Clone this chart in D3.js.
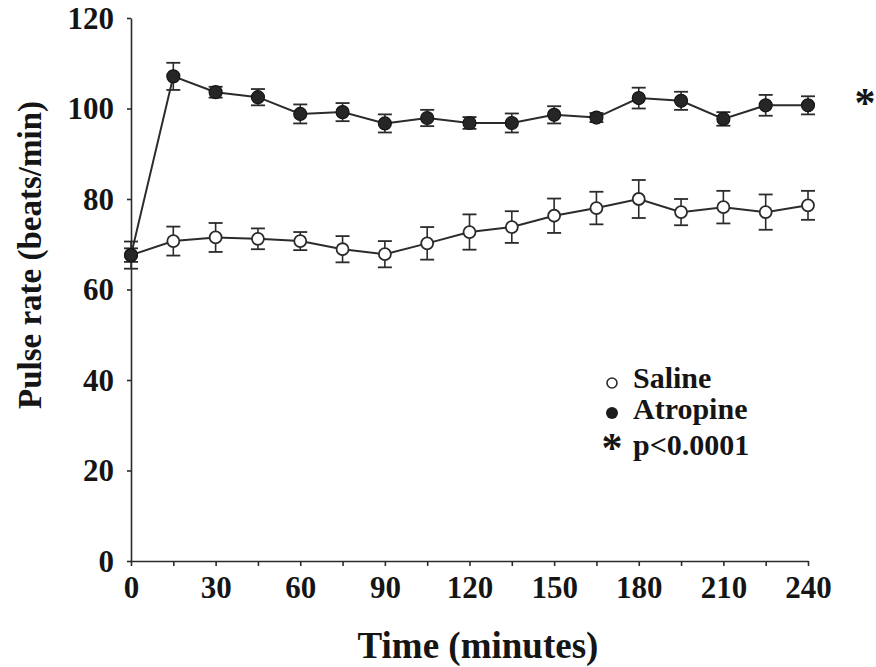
<!DOCTYPE html>
<html>
<head>
<meta charset="utf-8">
<script src="https://cdn.jsdelivr.net/npm/d3@7"></script>
<style>
  html, body { margin: 0; padding: 0; background: #fff; }
  svg { display: block; }
</style>
</head>
<body>
<svg id="chart" width="876" height="667"></svg>
<script>
// ---- data ----
const times = [0, 15, 30, 45, 60, 75, 90, 105, 120, 135, 150, 165, 180, 195, 210, 225, 240];
const salineValues = [67.6, 70.7, 71.5, 71.2, 70.7, 68.9, 67.8, 70.2, 72.7, 73.8, 76.3, 78.0, 80.0, 77.1, 78.2, 77.1, 78.6];
const salineErrors = [3.0, 3.2, 3.2, 2.3, 2.0, 2.9, 2.9, 3.6, 3.9, 3.5, 3.8, 3.6, 4.2, 2.9, 3.6, 3.9, 3.2];
const atropineValues = [67.6, 107.1, 103.6, 102.5, 98.8, 99.2, 96.7, 97.9, 96.8, 96.8, 98.6, 98.0, 102.3, 101.7, 97.7, 100.7, 100.7];
const atropineErrors = [1.5, 3.0, 1.2, 1.8, 2.1, 2.0, 2.0, 1.8, 1.3, 2.1, 1.9, 1.0, 2.3, 2.0, 1.5, 2.3, 2.0];
const yTicks = [0, 20, 40, 60, 80, 100, 120];
const xTickLabels = [0, 30, 60, 90, 120, 150, 180, 210, 240];
const legendLabels = ["Saline", "Atropine", "p<0.0001"];
const xTitle = "Time (minutes)";
const yTitle = "Pulse rate (beats/min)";

// ---- layout ----
const FONT = "'Liberation Serif', 'DejaVu Serif', serif";
const svg = d3.select("#chart");
const x = d3.scaleLinear().domain([0, 240]).range([131, 808]);
const y = d3.scaleLinear().domain([0, 120]).range([561, 18]);
const ink = "#2b2b2b";
const txt = "#151515";

function styleText(sel, size) {
  return sel.attr("font-family", FONT).style("font-family", FONT)
    .style("font-weight", "bold").style("font-size", size + "px").attr("fill", txt);
}

// axes
const yAxis = d3.axisLeft(y).tickValues(yTicks).tickSize(4).tickSizeOuter(0).tickPadding(13);
const gy = svg.append("g").attr("transform", `translate(${x(0)},0)`).call(yAxis);
gy.attr("font-family", null);
styleText(gy.selectAll("text"), 31).attr("dy", "0.33em");

const xAxis = d3.axisBottom(x).tickValues(times).tickSize(5).tickSizeOuter(0).tickPadding(10)
  .tickFormat(d => xTickLabels.includes(d) ? d : "");
const gx = svg.append("g").attr("transform", `translate(0,${y(0)})`).call(xAxis);
gx.attr("font-family", null);
styleText(gx.selectAll("text"), 31);

svg.selectAll(".domain, .tick line").attr("stroke", ink).attr("stroke-width", 1.6);

// axis titles
styleText(svg.append("text").attr("x", 478).attr("y", 658).attr("text-anchor", "middle"), 37).text(xTitle);
styleText(svg.append("text").attr("transform", "translate(41,255) rotate(-90)").attr("text-anchor", "middle"), 33).text(yTitle);

// series
function drawSeries(vals, errs, filled) {
  const pts = times.map((t, i) => ({ t, v: vals[i], e: errs[i] }));
  const g = svg.append("g");
  g.append("path").datum(pts)
    .attr("fill", "none").attr("stroke", ink).attr("stroke-width", 2)
    .attr("d", d3.line().x(d => x(d.t)).y(d => y(d.v)));
  const eb = g.selectAll(".eb").data(pts).enter().append("g");
  eb.append("line").attr("x1", d => x(d.t)).attr("x2", d => x(d.t))
    .attr("y1", d => y(d.v + d.e)).attr("y2", d => y(d.v - d.e))
    .attr("stroke", ink).attr("stroke-width", 1.6);
  [1, -1].forEach(s => {
    eb.append("line").attr("x1", d => x(d.t) - 7).attr("x2", d => x(d.t) + 7)
      .attr("y1", d => y(d.v + s * d.e)).attr("y2", d => y(d.v + s * d.e))
      .attr("stroke", ink).attr("stroke-width", 1.8);
  });
  g.selectAll(".pt").data(pts).enter().append("circle")
    .attr("cx", d => x(d.t)).attr("cy", d => y(d.v))
    .attr("r", filled ? 6.5 : 6)
    .attr("fill", filled ? "#262626" : "#fff")
    .attr("stroke", filled ? "#151515" : ink).attr("stroke-width", filled ? 1.2 : 1.8);
}
drawSeries(salineValues, salineErrors, false);
drawSeries(atropineValues, atropineErrors, true);

// significance asterisk
styleText(svg.append("text").attr("x", 865).attr("y", 117).attr("text-anchor", "middle"), 42).text("*");

// legend
svg.append("circle").attr("cx", 612).attr("cy", 383).attr("r", 5)
  .attr("fill", "#fff").attr("stroke", ink).attr("stroke-width", 1.6);
styleText(svg.append("text").attr("x", 633).attr("y", 388), 30).text(legendLabels[0]);
svg.append("circle").attr("cx", 612).attr("cy", 413).attr("r", 6).attr("fill", "#1c1c1c");
styleText(svg.append("text").attr("x", 633).attr("y", 419), 30).text(legendLabels[1]);
styleText(svg.append("text").attr("x", 612).attr("y", 462).attr("text-anchor", "middle"), 42).text("*");
styleText(svg.append("text").attr("x", 633).attr("y", 455), 30).text(legendLabels[2]);
</script>
</body>
</html>
